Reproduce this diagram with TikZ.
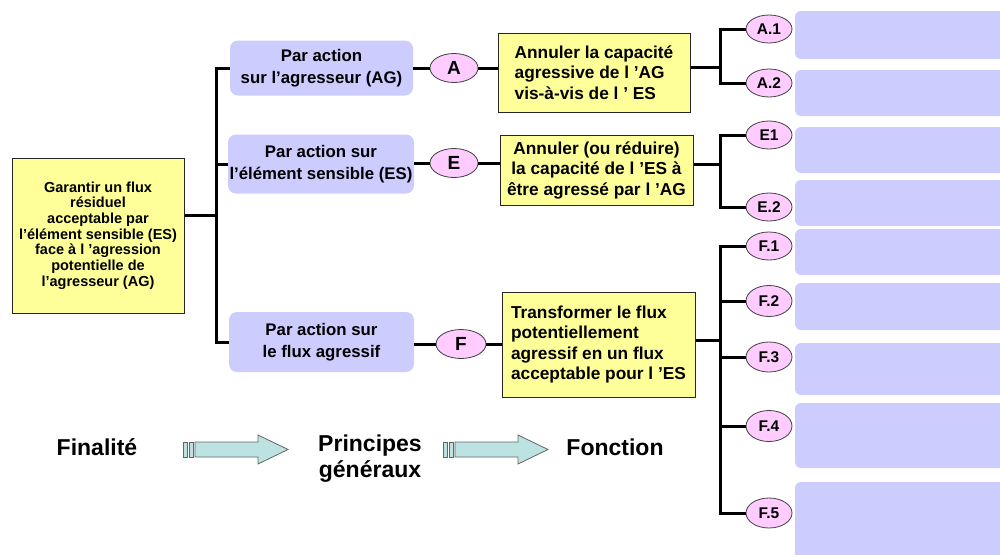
\documentclass[tikz,border=0pt]{standalone}
\usepackage{fontspec}
\setmainfont{Liberation Sans}
\usetikzlibrary{shapes.geometric}
\definecolor{yelfill}{HTML}{FFFF99}
\definecolor{lavfill}{HTML}{CCCCFF}
\definecolor{pinkfill}{HTML}{FFCCFF}
\definecolor{arrowfill}{HTML}{BCE2E2}
\begin{document}
\begin{tikzpicture}[x=1pt,y=-1pt,
  ybox/.style={draw=black!85, fill=yelfill, line width=1pt, inner sep=0pt,
    font=\bfseries\fontsize{17.3}{20.5}\selectfont},
  lbox/.style={fill=lavfill, rounded corners=8pt, inner sep=0pt, align=center,
    font=\bfseries\fontsize{16.8}{22}\selectfont},
  rbox/.style={fill=lavfill, rounded corners=6pt, inner sep=0pt, minimum width=215pt},
  bigel/.style={ellipse, draw=black!75, fill=pinkfill, line width=0.8pt, inner sep=0pt,
    minimum width=48pt, minimum height=29pt, font=\bfseries\fontsize{19}{19}\selectfont},
  smel/.style={ellipse, draw=black!75, fill=pinkfill, line width=0.8pt, inner sep=0pt,
    minimum width=46pt, minimum height=28pt, font=\bfseries\fontsize{15.5}{15.5}\selectfont},
  conn/.style={line width=3pt, black},
  biglabel/.style={font=\bfseries\fontsize{23}{26}\selectfont, align=center, inner sep=0pt},
  flowarrow/.style={draw=black!60, fill=arrowfill, line width=0.8pt}
]
\clip (0,0) rectangle (1000,554);
\useasboundingbox (0,0) rectangle (1000,554);

% left box
\node[ybox, minimum width=172pt, minimum height=155pt, align=center,
  font=\bfseries\fontsize{14.5}{15.7}\selectfont] (L) at (98,235.5)
  {Garantir un flux\\résiduel\\acceptable par\\l’élément sensible (ES)\\face à l ’agression\\potentielle de\\l’agresseur (AG)};

% lavender principle boxes
\node[lbox, minimum width=183pt, minimum height=55pt] (PA) at (321.5,68)
  {Par action\\sur l’agresseur (AG)};
\node[lbox, minimum width=186pt, minimum height=59pt] (PE) at (321,164)
  {Par action sur\\l’élément sensible (ES)};
\node[lbox, minimum width=185pt, minimum height=60pt] (PF) at (321.5,342)
  {Par action sur\\le flux agressif};

% big ellipses
\node[bigel] (A) at (454,68) {A};
\node[bigel] (E) at (454,163) {E};
\node[bigel, minimum width=50pt] (F) at (461,344) {F};

% yellow function boxes
\node[ybox, minimum width=192pt, minimum height=79pt, align=left] (YA) at (594,72.5)
  {Annuler la capacité\\agressive de l ’AG\\vis-à-vis de l ’ ES};
\node[ybox, minimum width=193pt, minimum height=70pt, align=center] (YE) at (596.5,170)
  {Annuler (ou réduire)\\la capacité de l ’ES à\\être agressé par l ’AG};
\node[ybox, minimum width=193pt, minimum height=105pt, align=left] (YF) at (598.5,344.5)
  {Transformer le flux\\potentiellement\\agressif en un flux\\acceptable pour l ’ES};

% right blank boxes
\node[rbox, minimum height=48pt] (r1) at (902.5,35) {};
\node[rbox, minimum height=46pt] (r2) at (902.5,93) {};
\node[rbox, minimum height=46pt] (r3) at (902.5,150) {};
\node[rbox, minimum height=46pt] (r4) at (902.5,203) {};
\node[rbox, minimum height=46pt] (r5) at (902.5,252) {};
\node[rbox, minimum height=47pt] (r6) at (902.5,306.5) {};
\node[rbox, minimum height=52pt] (r7) at (902.5,369) {};
\node[rbox, minimum height=65pt] (r8) at (902.5,435.5) {};
\node[rbox, minimum height=78pt] (r9) at (902.5,521) {};

% small ellipses
\node[smel] (A1) at (769,29) {A.1};
\node[smel] (A2) at (769,83) {A.2};
\node[smel] (E1) at (769,135) {E1};
\node[smel] (E2) at (769,207) {E.2};
\node[smel] (F1) at (769,246) {F.1};
\node[smel, minimum height=31pt] (F2) at (769,301) {F.2};
\node[smel, minimum height=30pt] (F3) at (769,357) {F.3};
\node[smel, minimum height=31pt] (F4) at (769,426) {F.4};
\node[smel, minimum height=30pt] (F5) at (769,513) {F.5};

% trunk
\coordinate (t) at (216,215);
\draw[conn] (L.east |- t) -- (t);
\draw[conn] (PA.west) -| (t) |- (PF.west);
\draw[conn] (t |- PE.west) -- (PE.west);

% principle -> ellipse -> function
\draw[conn] (PA.east) -- (A.west);
\draw[conn] (A.east) -- (A.east -| YA.west);
\draw[conn] (PE.east |- E.west) -- (E.west);
\draw[conn] (E.east) -- (E.east -| YE.west);
\draw[conn] (PF.east |- F.west) -- (F.west);
\draw[conn] (F.east) -- (F.east -| YF.west);

% branches
\coordinate (bA) at (720,67);
\coordinate (bE) at (720,164);
\coordinate (bF) at (720,340);
\draw[conn] (YA.east |- bA) -- (bA);
\draw[conn] (A1.west) -| (bA) |- (A2.west);
\draw[conn] (YE.east |- bE) -- (bE);
\draw[conn] (E1.west) -| (bE) |- (E2.west);
\draw[conn] (YF.east |- bF) -- (bF);
\draw[conn] (F1.west) -| (bF) |- (F5.west);
\draw[conn] (bF |- F2.west) -- (F2.west);
\draw[conn] (bF |- F3.west) -- (F3.west);
\draw[conn] (bF |- F4.west) -- (F4.west);

% bottom labels
\node[biglabel] (fin) at (97,447) {Finalité};
\node[biglabel] (pg) at (370,459) {Principes\\généraux};
\node[biglabel] (fo) at (615,447) {Fonction};

% flow arrows
\filldraw[flowarrow] (183,442) rectangle (187,457);
\filldraw[flowarrow] (189,442) rectangle (193,457);
\filldraw[flowarrow] (195,442) -- (258,442) -- (258,435) -- (288,449.5) -- (258,464) -- (258,457) -- (195,457) -- cycle;
\filldraw[flowarrow] (443,442) rectangle (447,457);
\filldraw[flowarrow] (449,442) rectangle (453,457);
\filldraw[flowarrow] (455,442) -- (518,442) -- (518,435) -- (548,449.5) -- (518,464) -- (518,457) -- (455,457) -- cycle;
\end{tikzpicture}
\end{document}
